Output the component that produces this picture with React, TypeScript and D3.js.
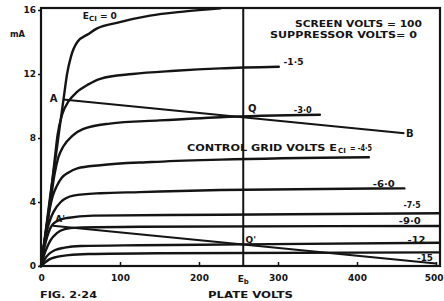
import React, { useRef, useEffect } from 'react';
import * as d3 from 'd3';

// plate current (mA) against plate volts, one list per control grid voltage
const gridLabels = ['0', '-1·5', '-3·0', '-4·5', '-6·0', '-7·5', '-9·0', '-12', '-15'];

const ec0: [number, number][] = [[0, 0], [6, 2.2], [12, 4.5], [18, 6.6], [24, 8.8], [29, 10.6], [33, 12.0], [38, 13.1], [46, 14.0], [60, 14.5], [71, 14.85], [96, 15.2], [138, 15.65], [180, 15.9], [227, 16.1]];
const ec15: [number, number][] = [[0, 0], [6, 2.1], [12, 4.3], [17, 6.5], [21, 8.2], [27, 9.5], [35, 10.3], [45, 10.85], [60, 11.35], [75, 11.7], [116, 12.0], [170, 12.2], [227, 12.35], [301, 12.45]];
const ec30: [number, number][] = [[0, 0], [6, 2.0], [12, 4.0], [17, 5.7], [22, 6.8], [28, 7.45], [40, 8.15], [53, 8.55], [87, 8.9], [150, 9.1], [227, 9.3], [353, 9.45]];
const ec45: [number, number][] = [[0, 0], [5, 1.7], [10, 3.3], [15, 4.4], [20, 5.0], [26, 5.5], [35, 5.85], [46, 6.1], [75, 6.3], [140, 6.5], [227, 6.65], [415, 6.8]];
const ec60: [number, number][] = [[0, 0], [4, 1.3], [8, 2.3], [12, 2.95], [16, 3.4], [25, 4.0], [41, 4.4], [75, 4.55], [125, 4.62], [227, 4.75], [460, 4.85]];
const ec75: [number, number][] = [[0, 0], [3, 0.85], [6, 1.5], [10, 2.15], [14, 2.55], [20, 2.8], [33, 3.0], [66, 3.15], [227, 3.2], [505, 3.3]];
const ec90: [number, number][] = [[0, 0], [4, 0.7], [8, 1.2], [12, 1.6], [20, 2.05], [30, 2.3], [45, 2.4], [125, 2.45], [505, 2.5]];
const ec12: [number, number][] = [[0, 0], [5, 0.45], [10, 0.75], [18, 1.0], [30, 1.15], [50, 1.25], [125, 1.3], [256, 1.35], [505, 1.45]];
const ec150: [number, number][] = [[0, 0], [5, 0.22], [10, 0.4], [20, 0.57], [35, 0.68], [60, 0.75], [150, 0.8], [505, 0.85]];

const curves = [ec0, ec15, ec30, ec45, ec60, ec75, ec90, ec12, ec150];

// load lines A-B and A'-B'
const loadAB: [number, number][] = [[28, 10.4], [460, 8.3]];
const loadA1B1: [number, number][] = [[15, 2.52], [500, 0.16]];
const eb = 256;

const xTicks = [0, 100, 200, 300, 400, 500];
const yTicks = [0, 4, 8, 12, 16];

const FONT = '"DejaVu Sans", sans-serif';
const INK = '#141414';

const App = () => {
  const svgRef = useRef<SVGSVGElement>(null);

  useEffect(() => {
    const svg = d3.select(svgRef.current);
    svg.selectAll('*').remove();

    const x = d3.scaleLinear().domain([0, 500]).range([41, 436]);
    const y = d3.scaleLinear().domain([0, 16]).range([266, 10]);
    const xEnd = x.invert(440);
    const yTop = y.invert(8);

    const g = svg.append('g');

    const line = d3.line<[number, number]>()
      .x(d => x(d[0]))
      .y(d => y(d[1]))
      .curve(d3.curveMonotoneX);

    curves.forEach(c => {
      g.append('path')
        .attr('d', line(c))
        .attr('fill', 'none')
        .attr('stroke', INK)
        .attr('stroke-width', 2.4)
        .attr('stroke-linecap', 'round');
    });

    [loadAB, loadA1B1].forEach(l => {
      g.append('path')
        .attr('d', d3.line<[number, number]>().x(d => x(d[0])).y(d => y(d[1]))(l))
        .attr('fill', 'none')
        .attr('stroke', INK)
        .attr('stroke-width', 2);
    });

    // Eb line
    g.append('line')
      .attr('x1', x(eb)).attr('x2', x(eb))
      .attr('y1', y(yTop)).attr('y2', y(0))
      .attr('stroke', INK).attr('stroke-width', 2);

    // frame
    g.append('rect')
      .attr('x', x(0)).attr('y', y(yTop))
      .attr('width', x(xEnd) - x(0)).attr('height', y(0) - y(yTop))
      .attr('fill', 'none').attr('stroke', INK).attr('stroke-width', 2.2);

    // axes
    const xa = g.append('g')
      .attr('transform', `translate(0,${y(0)})`)
      .call(d3.axisBottom(x).tickValues(xTicks).tickSize(-4).tickPadding(9).tickSizeOuter(0).tickFormat(d3.format('d')));
    const ya = g.append('g')
      .attr('transform', `translate(${x(0)},0)`)
      .call(d3.axisLeft(y).tickValues(yTicks).tickSize(3).tickPadding(2).tickSizeOuter(0).tickFormat(d3.format('d')));
    [xa, ya].forEach(a => {
      a.select('.domain').remove();
      a.attr('font-family', FONT).attr('font-size', 9).attr('font-weight', 'bold');
      a.selectAll('line').attr('stroke', INK).attr('stroke-width', 1.5);
      a.selectAll('text').attr('fill', INK);
    });
    // last x label sits at the page edge: keep it inside
    xa.selectAll<SVGTextElement, number>('text')
      .filter(d => d === 500)
      .attr('text-anchor', 'end')
      .attr('x', 443 - x(500));

    const label = (tx: string, px: number, py: number, opts: { anchor?: string; len?: number; size?: number } = {}) => {
      const t = g.append('text')
        .attr('x', px).attr('y', py)
        .attr('font-family', FONT)
        .attr('font-weight', 'bold')
        .attr('font-size', opts.size ?? 9)
        .attr('fill', INK)
        .attr('text-anchor', opts.anchor ?? 'start')
        .text(tx);
      if (opts.len) t.attr('textLength', opts.len).attr('lengthAdjust', 'spacingAndGlyphs');
      return t;
    };

    // E_C1 = 0
    const e0 = label('E', x(53), y(15.45));
    e0.append('tspan').attr('font-size', 7).attr('dy', 2).text('CI');
    e0.append('tspan').attr('dy', -2).text(' = 0');

    label('SCREEN  VOLTS = 100', 422, 27, { anchor: 'end', len: 127 });
    label('SUPPRESSOR  VOLTS= 0', 417, 38, { anchor: 'end', len: 147 });

    label(gridLabels[1], x(307), y(12.55), { len: 20 });
    label(gridLabels[2], x(320), y(9.55), { len: 18 });

    label('CONTROL  GRID  VOLTS  E', 187, 151, { len: 150 });
    label('CI', 338, 153, { size: 7 });
    label('= ' + gridLabels[3], 350, 151, { len: 22 });

    label(gridLabels[4], x(420), y(4.95), { len: 22 });
    label(gridLabels[5], x(459), y(3.6), { len: 17 });
    label(gridLabels[6], x(453), y(2.63), { len: 22 });
    label(gridLabels[7], x(464), y(1.45), { len: 18 });
    label(gridLabels[8], x(476), y(0.3), { len: 16 });

    label('A', x(11), y(10.25), { size: 10 });
    label("A'", x(18), y(2.75), { size: 9 });
    label('Q', x(262), y(9.6), { size: 10 });
    label("Q'", x(259), y(1.45), { size: 9 });
    label('B', x(462), y(8.05), { size: 10 });

    label('mA', 10, 37, { len: 15 });

    const ebl = label('E', x(eb), 282, { anchor: 'middle' });
    ebl.append('tspan').attr('font-size', 7).attr('dy', 2).text('b');

    label('FIG. 2·24', 40, 298, { len: 57 });
    label('PLATE  VOLTS', 208, 298, { len: 85 });
  }, []);

  return (
    <svg ref={svgRef} width={444} height={301}
      style={{ position: 'absolute', left: 0, top: 0, background: '#fff' }} />
  );
};

export default App;
